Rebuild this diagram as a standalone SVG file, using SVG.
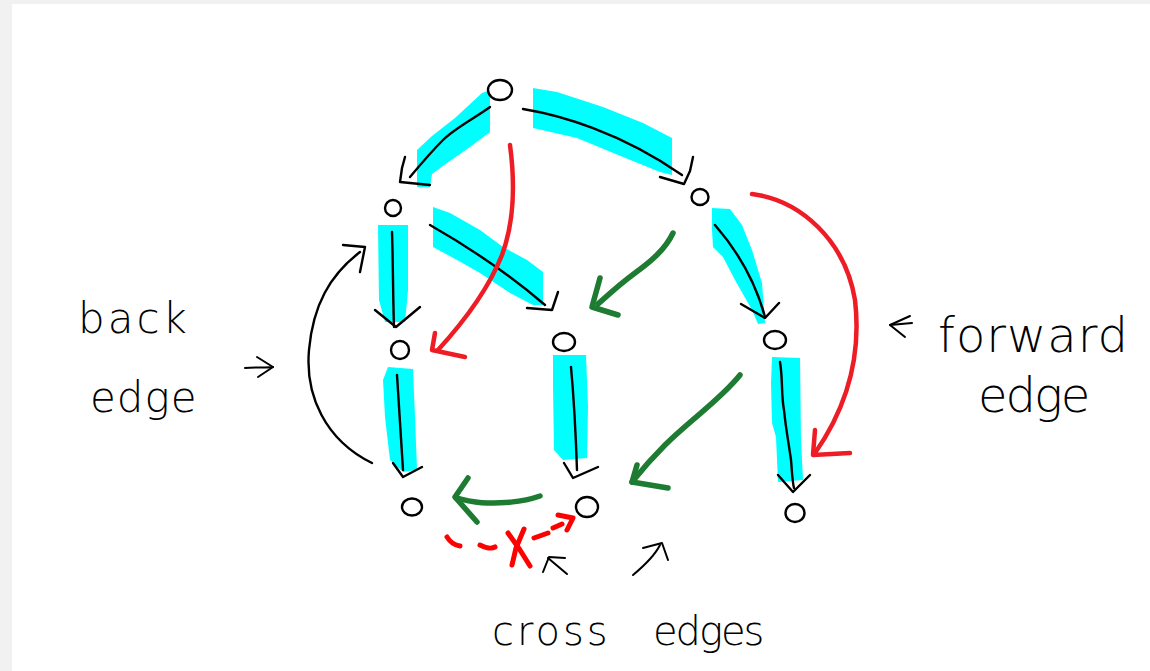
<svg xmlns="http://www.w3.org/2000/svg" width="1150" height="671" viewBox="0 0 1150 671">
  <style>
    .hl { fill: #00ffff; stroke: none; }
    .ink { fill: none; stroke: #000; stroke-width: 2.4; stroke-linecap: round; stroke-linejoin: round; }
    .thin { fill: none; stroke: #000; stroke-width: 2; stroke-linecap: round; stroke-linejoin: round; }
    .red { fill: none; stroke: #ee1c25; stroke-width: 4.5; stroke-linecap: round; stroke-linejoin: round; }
    .dash { fill: none; stroke: #ff0000; stroke-width: 5; stroke-linecap: round; stroke-linejoin: round; }
    .green { fill: none; stroke: #1e7b32; stroke-width: 5.5; stroke-linecap: round; stroke-linejoin: round; }
    .node { fill: #fff; stroke: #000; stroke-width: 2.4; }
    .label { font-family: "DejaVu Sans", "Liberation Sans", sans-serif; font-weight: 200; fill: #000; }
  </style>

  <!-- page -->
  <rect x="0" y="0" width="1150" height="671" fill="#f1f1f1"/>
  <rect x="12" y="4" width="1138" height="667" fill="#ffffff"/>

  <!-- highlighter strokes under the DFS tree edges -->
  <g id="tree-highlight">
    <polygon class="hl" points="417,150 432,136 455,118 482,93 490,90 490,132 470,147 447,163 432,174 430,187 417,187"/>
    <polygon class="hl" points="533,88 557,92 603,107 643,123 672,138 672,175 660,172 623,157 577,138 533,128"/>
    <polygon class="hl" points="378,225 408,225 408,290 405,322 385,322 379,300"/>
    <polygon class="hl" points="433,207 450,213 480,230 503,247 527,260 543,272 543,305 533,305 510,293 480,273 457,260 433,247"/>
    <polygon class="hl" points="388,367 413,369 415,417 417,470 403,472 390,460 385,417 383,380"/>
    <polygon class="hl" points="553,355 586,355 588,407 587,458 563,460 554,450 553,387"/>
    <polygon class="hl" points="712,208 730,209 742,225 752,250 762,283 765,323 758,324 752,310 735,280 723,257 713,247 712,230"/>
    <polygon class="hl" points="772,357 800,358 801,440 803,480 778,482 776,437 772,423 771,383"/>
  </g>

  <g id="connectors">
    <!-- tree edges -->
    <g id="tree-edges">
      <path class="ink" d="M490,107 C475,118 455,128 443,140 S420,165 410,177"/>
      <polyline class="ink" points="405,157 402,168 400,182 430,185"/>
      <path class="ink" d="M523,109 C560,115 620,132 682,175"/>
      <polyline class="ink" points="693,157 690,171 684,184 660,177"/>
      <path class="ink" d="M392,232 C393,260 393,300 394,327"/>
      <polyline class="ink" points="375,310 396,327 420,307"/>
      <path class="ink" d="M430,225 C465,245 510,275 545,305"/>
      <polyline class="ink" points="527,308 552,310 558,292"/>
      <path class="ink" d="M397,375 C399,410 401,440 403,470"/>
      <polyline class="ink" points="393,463 403,477 422,467"/>
      <path class="ink" d="M571,367 C574,400 576,440 577,470"/>
      <polyline class="ink" points="564,463 573,478 598,467"/>
      <path class="ink" d="M715,225 C735,248 755,280 765,317"/>
      <polyline class="ink" points="741,304 765,318 779,303"/>
      <path class="ink" d="M780,362 C783,380 781,395 784,410 C786,430 789,445 791,460 C792,470 792,480 794,488"/>
      <polyline class="ink" points="778,475 793,492 810,475"/>
    </g>

    <!-- back edge -->
    <g id="back-edge">
      <path class="ink" d="M372,463 C325,440 305,395 309,350 C313,305 330,275 360,252"/>
      <polyline class="ink" points="343,245 365,247 360,272"/>
    </g>

    <!-- forward edges -->
    <g id="forward-edges">
      <path class="red" d="M510,145 C516,190 512,228 502,255 C490,285 470,315 438,350"/>
      <polyline class="red" points="435,333 432,350 465,357"/>
      <path class="red" d="M752,194 C800,200 845,240 855,300 C862,360 845,410 815,453"/>
      <polyline class="red" points="815,430 813,455 850,453"/>
    </g>

    <!-- cross edges -->
    <g id="cross-edges">
      <path class="green" d="M673,233 C665,250 650,262 635,273 S608,295 598,304"/>
      <polyline class="green" points="600,278 592,307 618,315"/>
      <path class="green" d="M740,375 C720,400 690,420 665,445 C650,460 640,472 632,482"/>
      <polyline class="green" points="637,465 632,482 668,488"/>
      <path class="green" d="M540,496 C520,503 500,503 487,503 C475,503 465,500 456,498"/>
      <polyline class="green" points="468,478 455,497 477,522"/>
    </g>

    <!-- crossed-out edge (not allowed) -->
    <g id="forbidden-edge">
      <path class="dash" d="M447,537 Q452,545 460,546"/>
      <path class="dash" d="M480,545 Q490,550 495,547"/>
      <path class="dash" d="M508,533 L520,550 L530,566"/>
      <path class="dash" d="M524,529 L516,548 L512,565"/>
      <path class="dash" d="M534,538 L548,533"/>
      <path class="dash" d="M553,528 L562,524"/>
      <polyline class="dash" points="558,515 573,518 567,530"/>
    </g>

    <!-- pointers from the labels -->
    <g id="pointers">
      <path class="thin" d="M245,368 C255,367 265,368 273,367"/>
      <polyline class="thin" points="257,357 273,367 258,377"/>
      <path class="thin" d="M890,325 L912,323"/>
      <polyline class="thin" points="910,316 890,325 905,337"/>
      <path class="thin" d="M567,574 L548,558"/>
      <polyline class="thin" points="543,572 549,557 565,558"/>
      <path class="thin" d="M633,575 C645,565 655,555 660,545"/>
      <polyline class="thin" points="643,548 662,543 668,560"/>
    </g>
  </g>

  <!-- vertices -->
  <g id="n-root"><ellipse class="node" cx="500" cy="90" rx="12" ry="10"/></g>
  <g id="n-a"><ellipse class="node" cx="393" cy="208" rx="8" ry="8"/></g>
  <g id="n-b"><ellipse class="node" cx="700" cy="197" rx="8.5" ry="8"/></g>
  <g id="n-c"><ellipse class="node" cx="400" cy="350" rx="9" ry="9"/></g>
  <g id="n-d"><ellipse class="node" cx="564" cy="342" rx="11" ry="9"/></g>
  <g id="n-e"><ellipse class="node" cx="775" cy="340" rx="11" ry="9"/></g>
  <g id="n-f"><ellipse class="node" cx="412" cy="507" rx="10" ry="8.5"/></g>
  <g id="n-g"><ellipse class="node" cx="587" cy="507" rx="11" ry="10"/></g>
  <g id="n-h"><ellipse class="node" cx="795" cy="513" rx="9.5" ry="9"/></g>

  <!-- labels -->
  <g id="label-back">
    <text class="label" font-size="42" letter-spacing="3"><tspan x="78" y="333">back</tspan><tspan x="90" y="412" letter-spacing="1">edge</tspan></text>
  </g>
  <g id="label-forward">
    <text class="label" font-size="48" letter-spacing="1"><tspan x="938" y="352">forward</tspan><tspan x="978" y="412" letter-spacing="-2">edge</tspan></text>
  </g>
  <g id="label-cross">
    <text class="label" font-size="40"><tspan x="492" y="645" letter-spacing="3">cross</tspan><tspan x="653" y="645" letter-spacing="-2">edges</tspan></text>
  </g>
</svg>
